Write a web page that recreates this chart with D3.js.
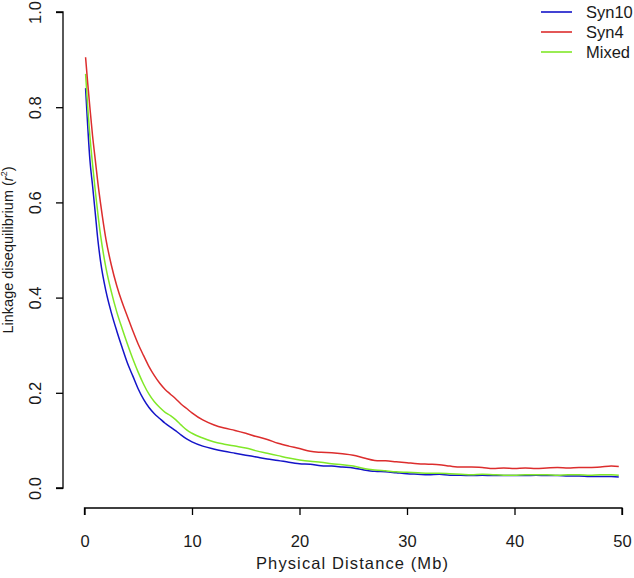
<!DOCTYPE html>
<html><head><meta charset="utf-8">
<script src="https://cdn.jsdelivr.net/npm/d3@7"></script>
<style>body{margin:0;background:#fff}svg{display:block}text{font-family:"Liberation Sans",Arial,sans-serif}</style>
</head><body>
<svg id="c" width="634" height="578"></svg>
<script>
const distances = [0.1,0.3,0.5,0.75,1,1.25,1.5,2,2.5,3,3.5,4,4.5,5,5.5,6,6.5,7,7.5,8,8.5,9,9.5,10,11,12,13,14,15,16,17,18,19,20,21,22,23,24,25,26,27,28,29,30,31,32,33,34,35,36,37,38,39,40,41,42,43,44,45,46,47,48,49,49.7];
const syn10 = [0.84,0.76,0.69,0.635,0.578,0.52,0.475,0.413,0.368,0.33,0.295,0.262,0.235,0.208,0.186,0.169,0.156,0.146,0.136,0.128,0.12,0.111,0.103,0.097,0.088,0.082,0.077,0.073,0.069,0.065,0.061,0.058,0.054,0.051,0.05,0.047,0.046,0.044,0.042,0.038,0.035,0.034,0.032,0.03,0.029,0.028,0.029,0.027,0.027,0.026,0.027,0.026,0.026,0.026,0.026,0.027,0.026,0.026,0.025,0.025,0.024,0.024,0.024,0.023];
const syn4 = [0.905,0.85,0.80,0.74,0.69,0.64,0.597,0.522,0.468,0.425,0.39,0.36,0.33,0.302,0.278,0.255,0.236,0.22,0.207,0.197,0.187,0.176,0.167,0.158,0.143,0.133,0.126,0.121,0.115,0.108,0.102,0.094,0.088,0.083,0.077,0.075,0.074,0.072,0.069,0.063,0.058,0.057,0.055,0.053,0.051,0.05,0.049,0.046,0.044,0.044,0.043,0.041,0.042,0.041,0.042,0.041,0.042,0.043,0.042,0.043,0.043,0.044,0.046,0.045];
const mixed = [0.87,0.80,0.74,0.68,0.625,0.575,0.53,0.462,0.412,0.37,0.335,0.302,0.271,0.243,0.218,0.197,0.181,0.169,0.159,0.152,0.143,0.132,0.122,0.115,0.105,0.097,0.092,0.088,0.084,0.078,0.073,0.068,0.063,0.059,0.056,0.054,0.051,0.049,0.046,0.041,0.038,0.036,0.034,0.033,0.032,0.031,0.031,0.03,0.029,0.028,0.029,0.028,0.027,0.027,0.028,0.028,0.028,0.027,0.028,0.028,0.027,0.028,0.028,0.027];
const seriesNames = ["Syn10","Syn4","Mixed"];
const seriesColors = ["#1414c8","#dc2d2d","#80e828"];
const xTicks = [0,10,20,30,40,50];
const yTicks = [0,0.2,0.4,0.6,0.8,1.0];

const svg = d3.select("#c");
const x = d3.scaleLinear().domain([0,50]).range([84.5,622]);
const y = d3.scaleLinear().domain([0,1]).range([488,12]);
const font = 16.5, ink = "#1a1a1a";

// x axis
const gx = svg.append("g").attr("transform","translate(0,508)")
  .call(d3.axisBottom(x).tickValues(xTicks).tickFormat(d3.format("d")).tickSize(7));
gx.select(".domain").attr("d",`M${x(0)},7V0H${x(50)}V7`).attr("stroke","#000").attr("stroke-width",1.3);
gx.selectAll(".tick line").attr("stroke","#000").attr("stroke-width",1.3);
gx.selectAll(".tick text").attr("font-size",font).attr("fill",ink).attr("font-family","Liberation Sans, Arial, sans-serif")
  .attr("dy",null).attr("y",39);

// y axis
const gy = svg.append("g").attr("transform","translate(63,0)")
  .call(d3.axisLeft(y).tickValues(yTicks).tickFormat(d3.format(".1f")).tickSize(7));
gy.select(".domain").attr("d",`M-7,${y(0)}H0V${y(1)}H-7`).attr("stroke","#000").attr("stroke-width",1.3);
gy.selectAll(".tick line").attr("stroke","#000").attr("stroke-width",1.3);
gy.selectAll(".tick text").attr("font-size",font).attr("fill",ink).attr("font-family","Liberation Sans, Arial, sans-serif")
  .attr("x",null).attr("dy",null).attr("text-anchor","middle")
  .attr("transform","translate(-28,0) rotate(-90)").attr("y",0).attr("dominant-baseline","central");

// axis titles
svg.append("text").attr("x",352).attr("y",569).attr("text-anchor","middle").attr("font-size",font).attr("fill",ink)
  .attr("textLength",192).attr("lengthAdjust","spacing")
  .text("Physical Distance (Mb)");
const yt = svg.append("text").attr("transform","translate(13,250) rotate(-90)").attr("text-anchor","middle")
  .attr("font-size",14.5).attr("fill",ink);
yt.append("tspan").text("Linkage disequilibrium (");
yt.append("tspan").attr("font-style","italic").text("r");
yt.append("tspan").attr("font-size",9).attr("dy",-6).text("2");
yt.append("tspan").attr("dy",6).text(")");

// lines
const all = [syn10, syn4, mixed];
const line = d3.line().x((d,i)=>x(distances[i])).y(d=>y(d)).curve(d3.curveMonotoneX);
[0,2,1].forEach(k=>{
  svg.append("path").attr("d",line(all[k])).attr("fill","none").attr("stroke",seriesColors[k]).attr("stroke-width",1.5);
});

// legend
seriesNames.forEach((n,i)=>{
  const yy = 12 + i*20;
  svg.append("line").attr("x1",541).attr("x2",572).attr("y1",yy).attr("y2",yy).attr("stroke",seriesColors[i]).attr("stroke-width",1.6);
  svg.append("text").attr("x",586).attr("y",yy).attr("dominant-baseline","central").attr("font-size",font).attr("fill",ink).text(n);
});
</script>
</body></html>
